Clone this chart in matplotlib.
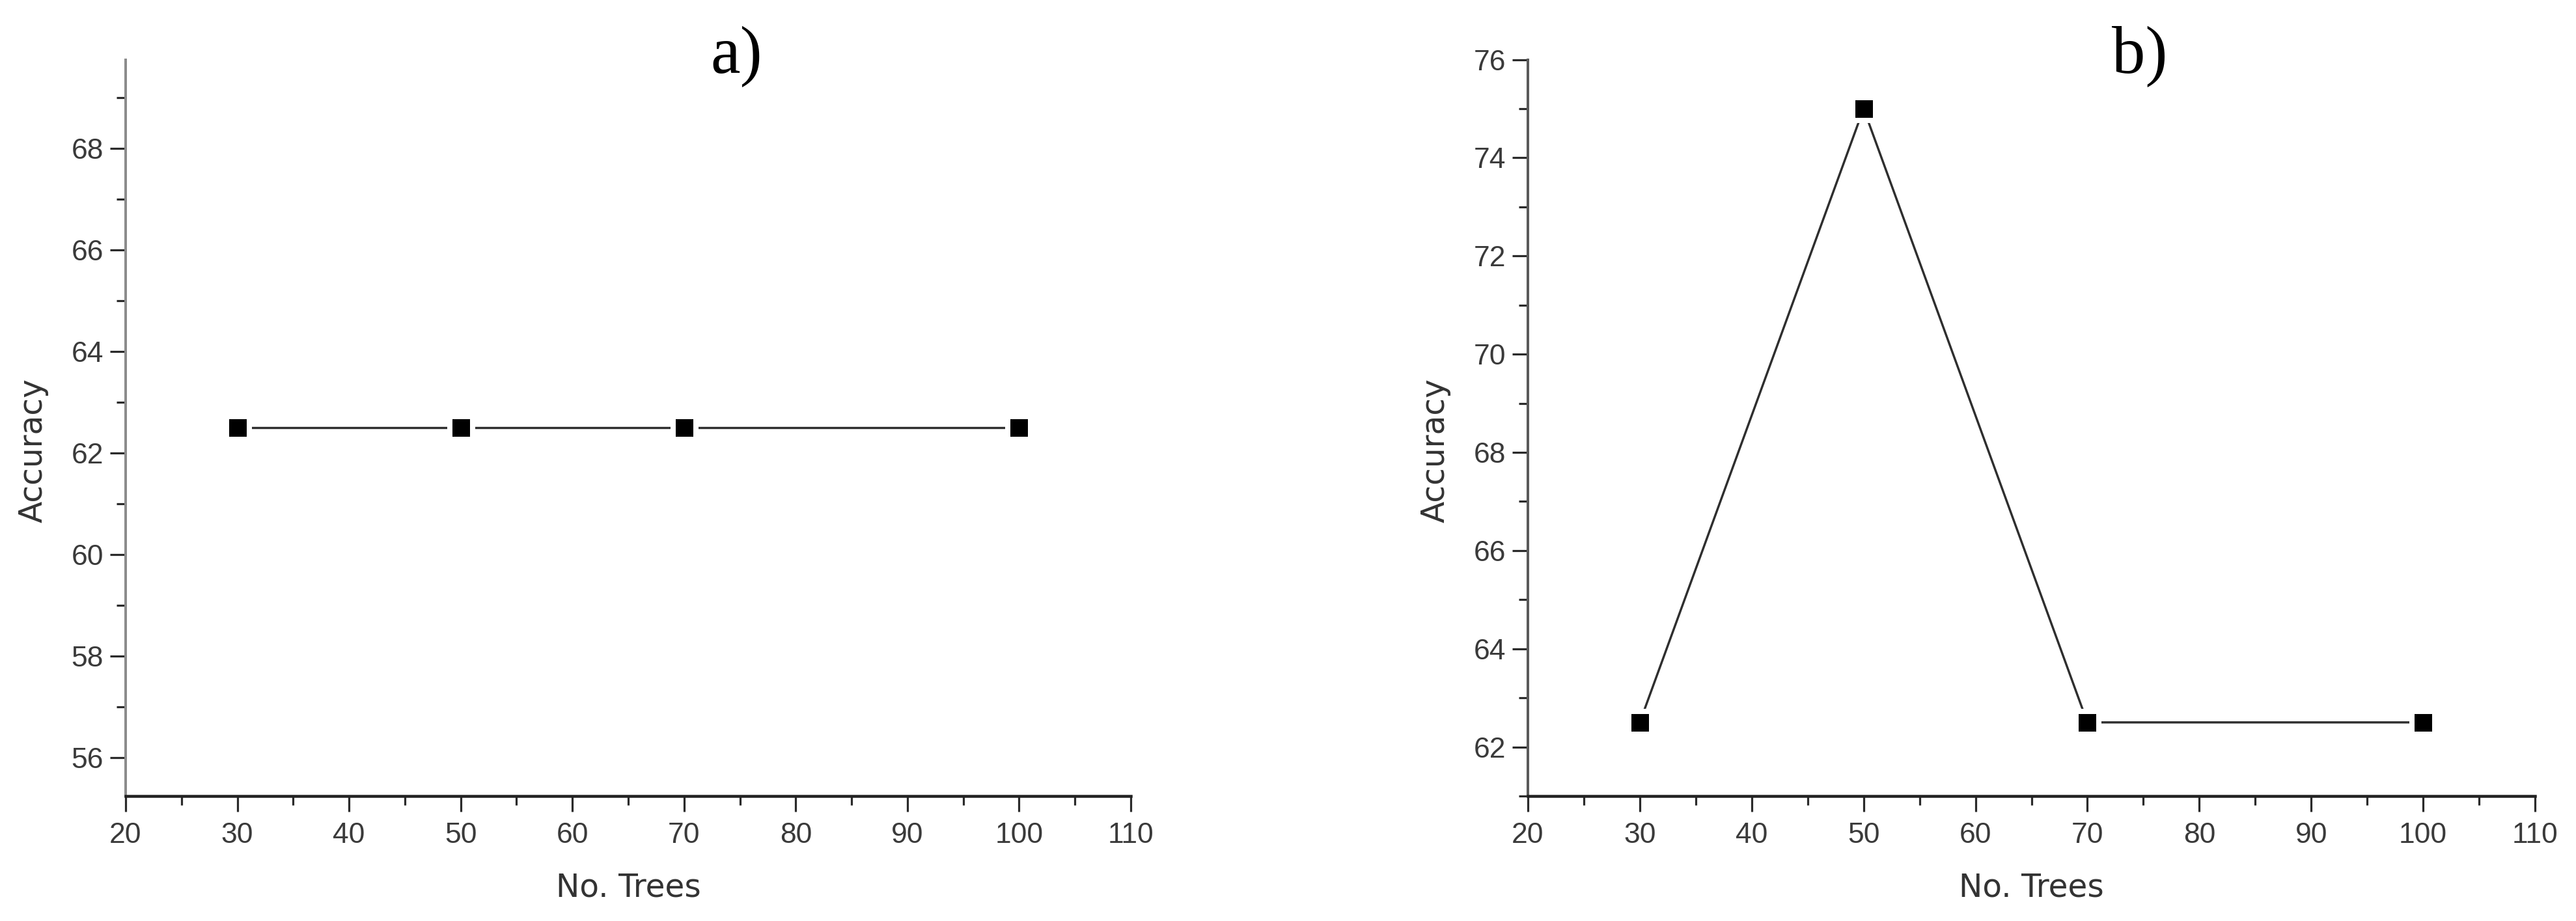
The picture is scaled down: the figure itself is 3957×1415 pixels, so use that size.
import matplotlib
matplotlib.use('Agg')
import matplotlib.pyplot as plt
from matplotlib.ticker import MultipleLocator

# ---- data ----
trees = [30, 50, 70, 100]
acc_a = [62.5, 62.5, 62.5, 62.5]
acc_b = [62.5, 75.0, 62.5, 62.5]
panel_labels = ['a)', 'b)']
x_limits = (20, 110)
y_limits_a = (55.25, 69.75)
y_limits_b = (61, 76)
x_label = 'No. Trees'
y_label = 'Accuracy'

W, H = 3957, 1415
DPI = 100
PT = 72.0 / DPI  # points per pixel

fig = plt.figure(figsize=(W / DPI, H / DPI), dpi=DPI)
fig.patch.set_facecolor('white')

ax_a = fig.add_axes([193 / W, (H - 1223) / H, 1544 / W, 1131.5 / H])
ax_b = fig.add_axes([2347 / W, (H - 1223) / H, 1547 / W, 1131.5 / H])


def style(ax, xs, ys, ylim, label, yspine_color):
    # line, then markers with white halo (gap-to-symbol look)
    ax.plot(xs, ys, color='#2e2e2e', linewidth=3.4 * PT, zorder=2,
            solid_capstyle='butt')
    ax.plot(xs, ys, linestyle='none', marker='s', markersize=35 * PT,
            markerfacecolor='black', markeredgecolor='white',
            markeredgewidth=8 * PT, zorder=3)

    ax.set_xlim(*x_limits)
    ax.set_ylim(*ylim)
    ax.xaxis.set_major_locator(MultipleLocator(10))
    ax.xaxis.set_minor_locator(MultipleLocator(5))
    ax.yaxis.set_major_locator(MultipleLocator(2))
    ax.yaxis.set_minor_locator(MultipleLocator(1))

    for s in ('top', 'right'):
        ax.spines[s].set_visible(False)
    ax.spines['bottom'].set_color('#222222')
    ax.spines['bottom'].set_linewidth(4.5 * PT)
    ax.spines['left'].set_color(yspine_color)
    ax.spines['left'].set_linewidth(4 * PT)

    ax.tick_params(axis='both', which='major', direction='out',
                   length=24 * PT, width=3.2 * PT, color='#2a2a2a',
                   labelcolor='#3a3a3a')
    ax.tick_params(axis='both', which='minor', direction='out',
                   length=14 * PT, width=3.2 * PT, color='#2a2a2a')
    ax.tick_params(axis='x', which='major', pad=16 * PT)
    ax.tick_params(axis='y', which='major', pad=10 * PT)
    for t in ax.get_xticklabels() + ax.get_yticklabels():
        t.set_fontfamily('Liberation Sans')
        t.set_fontsize(32)

    ax.set_xlabel(x_label, fontsize=35, family='DejaVu Sans',
                  color='#333333', va='center')
    ax.xaxis.set_label_coords(0.5, (1223 - 1363) / 1131.5)
    ax.set_ylabel(y_label, fontsize=35, family='DejaVu Sans',
                  color='#333333', va='center')
    ax.yaxis.set_label_coords(-0.092, 0.469)

    ax.text(0.6075, (1223 - 87) / 1131.5, label, transform=ax.transAxes,
            ha='center', va='center', fontsize=74,
            family='Liberation Serif', color='black')


style(ax_a, trees, acc_a, y_limits_a, panel_labels[0], '#8c8c8c')
style(ax_b, trees, acc_b, y_limits_b, panel_labels[1], '#5a5a5a')

fig.savefig('out.png', dpi=DPI, facecolor='white')
